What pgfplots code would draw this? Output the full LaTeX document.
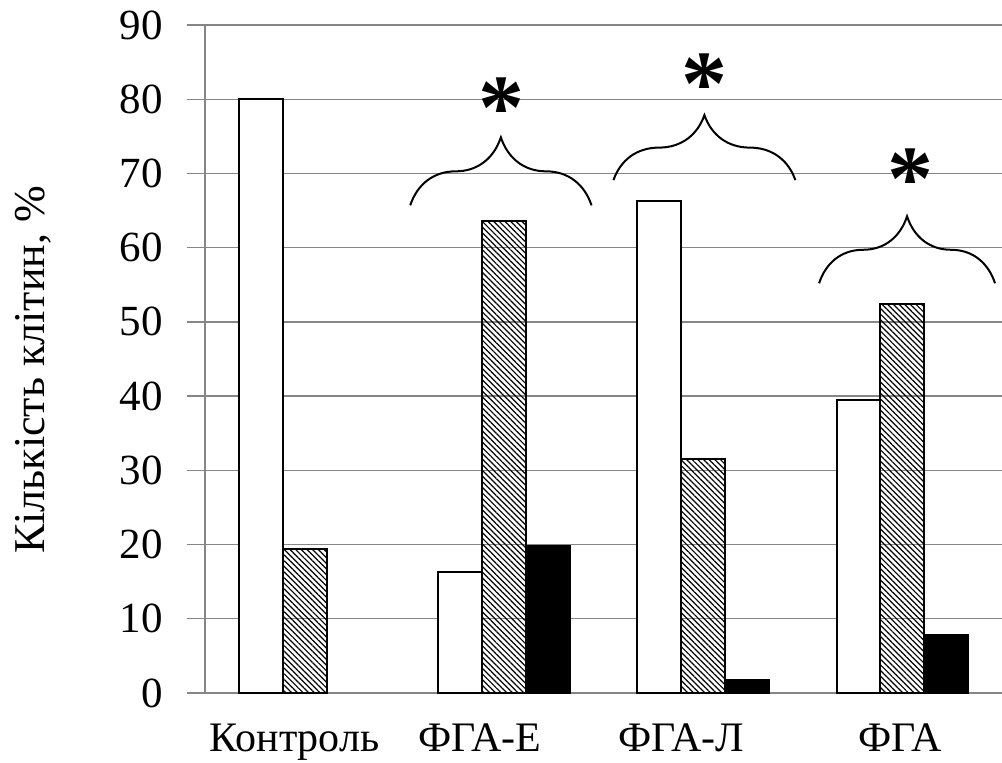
\documentclass[border=0pt]{standalone}
\usepackage{fontspec}
\setmainfont{Liberation Serif}
\usepackage{pgfplots}
\usepackage{pgfplotstable}
\pgfplotsset{compat=1.18}
\usetikzlibrary{patterns.meta,decorations.pathreplacing}
\definecolor{gridgray}{RGB}{134,134,134}

\pgfplotstableread{
x white hatch
0 80 19.4
1 16.3 63.6
2 66.3 31.5
3 39.5 52.4
}\dataA
\pgfplotstableread{
x black
1 19.8
2 1.7
3 7.8
}\dataB

\begin{document}
\begin{tikzpicture}
\begin{axis}[
  name=ax,
  scale only axis, width=398.5pt, height=334pt,
  xmin=-0.5, xmax=3.5, ymin=0, ymax=90,
  ytick={0,10,...,90},
  xtick={-0.05,0.88,1.89,2.99},
  xticklabels={Контроль, ФГА-Е, ФГА-Л, ФГА},
  axis lines*=left,
  axis line style={gridgray, line width=0.7pt},
  ymajorgrids, grid style={gridgray, line width=0.7pt},
  tick align=outside, major tick length=9pt,
  ytick style={gridgray, line width=0.7pt},
  xtick style={draw=none},
  /pgf/number format/assume math mode=true,
  yticklabel style={font=\fontsize{21.5}{24}\selectfont, anchor=east, inner sep=0pt, xshift=-12pt},
  xticklabel style={font=\fontsize{21}{24}\selectfont, anchor=base, inner sep=0pt, yshift=-20.5pt},
  ylabel={Кількість клітин, \%},
  ylabel style={font=\fontsize{22}{26}\selectfont, at={(axis description cs:-0.2158,0.4835)}, anchor=center},
  ybar, bar width=0.22,
  clip=false,
]
\addplot[draw=black, fill=white, line width=1pt, bar shift=-0.22] table[x=x,y=white]{\dataA};
\addplot[draw=black, pattern={Lines[angle=-45,distance=2pt,line width=0.6pt]}, line width=1pt, bar shift=0] table[x=x,y=hatch]{\dataA};
\addplot[draw=black, fill=black, line width=1pt, bar shift=0.22] table[x=x,y=black]{\dataB};

\draw[line width=1pt, decorate, decoration={brace, amplitude=34pt}] (axis cs:0.53,65.7) -- (axis cs:1.44,65.7);
\draw[line width=1pt, decorate, decoration={brace, amplitude=32.5pt}] (axis cs:1.55,69.1) -- (axis cs:2.463,69.1);
\draw[line width=1pt, decorate, decoration={brace, amplitude=33.5pt}] (axis cs:2.582,55.2) -- (axis cs:3.465,55.2);

\node[font=\fontsize{46}{46}\bfseries\selectfont, inner sep=0pt, yshift=-6.5pt] at (axis cs:0.99,80.6) {*};
\node[font=\fontsize{46}{46}\bfseries\selectfont, inner sep=0pt, yshift=-6.5pt] at (axis cs:2.009,83.8) {*};
\node[font=\fontsize{46}{46}\bfseries\selectfont, inner sep=0pt, yshift=-6.5pt] at (axis cs:3.04,71.0) {*};
\end{axis}
\pgfresetboundingbox
\path[use as bounding box] ([shift={(-102.5pt,-35pt)}]ax.south west) rectangle ([shift={(0pt,12.5pt)}]ax.north east);
\end{tikzpicture}
\end{document}
